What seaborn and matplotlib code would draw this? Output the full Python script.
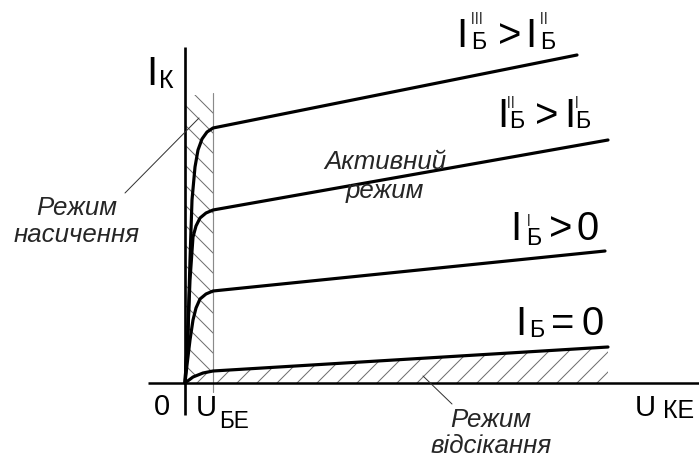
import matplotlib
matplotlib.use("Agg")
import matplotlib.pyplot as plt
import numpy as np
import pandas as pd
import seaborn as sns

# Output characteristics of a BJT in common-emitter configuration
# U_KE (horizontal) and I_K (vertical) in arbitrary drawing units.
ib3_u = [0, 3, 5, 7, 10, 13, 17, 22, 28, 392]
ib3_i = [0, 53, 123, 183, 216, 233, 244, 251, 255, 328]

ib2_u = [0, 3, 5, 8, 11, 15, 21, 28, 423]
ib2_i = [0, 53, 103, 146, 157, 165, 170, 173, 243]

ib1_u = [0, 2, 5, 8, 11, 15, 21, 28, 420]
ib1_i = [0, 18, 43, 63, 75, 84, 89, 92, 132]

ib0_u = [0, 8, 18, 28, 423]
ib0_i = [0, 6, 10, 12, 36]

u_be = 28          # saturation boundary
sat_top = 288      # upper edge of the saturation band

curves = {"ib3": (ib3_u, ib3_i), "ib2": (ib2_u, ib2_i),
          "ib1": (ib1_u, ib1_i), "ib0": (ib0_u, ib0_i)}

df = pd.concat(
    [pd.DataFrame({"u": u, "i": i, "curve": name, "order": range(len(u))})
     for name, (u, i) in curves.items()],
    ignore_index=True,
)

sns.set_theme(style="white")
plt.rcParams["font.family"] = ["Liberation Sans", "DejaVu Sans"]
plt.rcParams["hatch.linewidth"] = 0.6

DPI = 120
fig = plt.figure(figsize=(699 / DPI, 457 / DPI), dpi=DPI)
ax = fig.add_axes([0, 0, 1, 1])
ax.set_xlim(-185, 514)
ax.set_ylim(-74, 383)
ax.axis("off")

hatch_col = "#6e6e6e"

# saturation region (left band)
sat_u = [u for u in ib0_u if u <= u_be]
sat_i = ib0_i[:len(sat_u)]
ax.fill_between(sat_u, sat_i, sat_top, facecolor="none", edgecolor=hatch_col,
                hatch="\\\\", linewidth=0)

# cut-off region (below the I_B = 0 curve)
ax.fill_between(ib0_u, 0, ib0_i, facecolor="none", edgecolor=hatch_col,
                hatch="//", linewidth=0)

# U_BE boundary line
ax.plot([u_be, u_be], [sat_top + 2, -9], color="#8a8a8a", lw=0.7)

# coordinate axes
ax.plot([-37, 514], [0, 0], color="black", lw=1.5, solid_capstyle="butt")
ax.plot([0, 0], [-32, 336], color="black", lw=1.6, solid_capstyle="butt")

# characteristic curves
sns.lineplot(data=df, x="u", y="i", units="curve", estimator=None, sort=False,
             color="black", lw=1.9, ax=ax, legend=False)
ax.set_xlabel("")
ax.set_ylabel("")

BIG = 24
SUB = 14
PRIME = 8


def put(x, y, s, size, **kw):
    ax.text(x - 185, 383 - y, s, fontsize=size, ha="center", va="baseline",
            color="black", **kw)


def primes(xs, top):
    # thin vertical strokes above the subscript
    for x in xs:
        ax.text(x - 185, 383 - top, "|", fontsize=PRIME, ha="center", va="top",
                color="black")


# I_B''' > I_B''
put(461.5, 47, "I", BIG)
put(479, 49, "Б", SUB)
primes([473, 477, 481], 12)
put(509.5, 47, ">", BIG)
put(530.5, 47, "I", BIG)
put(548, 49, "Б", SUB)
primes([542, 546], 12)

# I_B'' > I_B'
put(502.5, 127, "I", BIG)
put(517, 128, "Б", SUB)
primes([509, 513], 96)
put(546.5, 127, ">", BIG)
put(569.5, 127, "I", BIG)
put(583, 128, "Б", SUB)
primes([577], 96)

# I_B' > 0
put(516, 240, "I", BIG)
put(534, 245, "Б", SUB)
primes([529], 214)
put(561, 240, ">", BIG)
put(588, 240, "0", BIG)

# I_B = 0
put(521, 335, "I", BIG)
put(536.5, 337, "Б", SUB)
put(563, 335, "=", BIG)
put(592.5, 335, "0", BIG)

# axis captions
put(151.5, 85, "I", BIG)
put(166, 88, "К", 15)
put(161.5, 415, "0", 17.5)
put(206.5, 416, "U", 17.5)
put(234, 428, "БЕ", 13.5)
put(645, 416, "U", 17.5)
put(679, 418, "КЕ", 15)

# region names
ITAL = 15.5
ax.text(77 - 185, 383 - 242, "Режим\nнасичення", fontsize=ITAL, style="italic",
        ha="center", va="baseline", linespacing=1.17, multialignment="center")
ax.text(385 - 185, 383 - 198, "Активний\nрежим", fontsize=ITAL, style="italic",
        ha="center", va="baseline", linespacing=1.27, multialignment="center")
ax.text(491 - 185, 383 - 453, "Режим\nвідсікання", fontsize=ITAL, style="italic",
        ha="center", va="baseline", linespacing=1.12, multialignment="center")

# leader lines
ax.plot([125 - 185, 199 - 185], [383 - 193, 383 - 118], color="#333333", lw=0.6)
ax.plot([423 - 185, 452 - 185], [383 - 376, 383 - 404], color="#333333", lw=0.6)

fig.savefig("out.png", dpi=DPI)
